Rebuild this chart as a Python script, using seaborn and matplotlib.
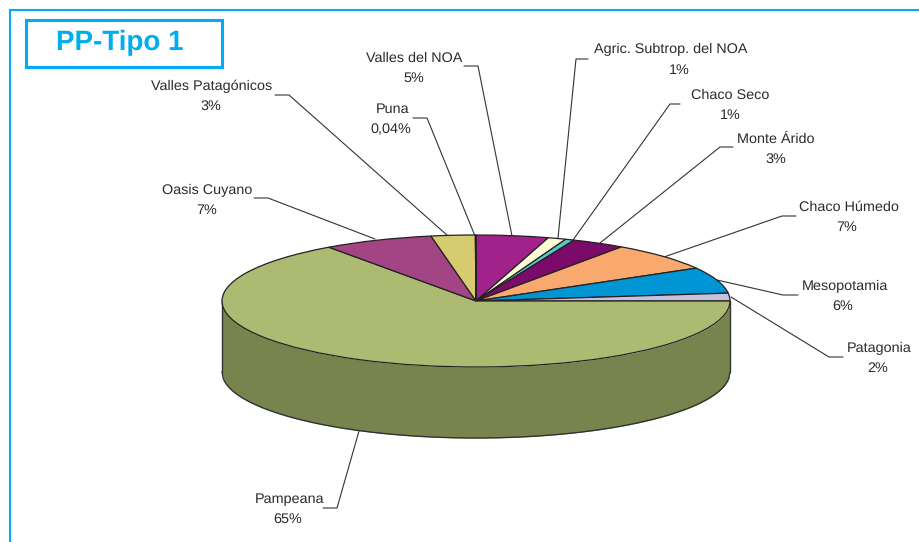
import numpy as np
import matplotlib
matplotlib.use("Agg")
import matplotlib.pyplot as plt
import seaborn as sns

# clockwise from 12 o'clock
regions = ["Valles del NOA", "Agric. Subtrop. del NOA", "Chaco Seco", "Monte Árido", "Chaco Húmedo",
           "Mesopotamia", "Patagonia", "Pampeana", "Oasis Cuyano", "Valles Patagónicos", "Puna"]
shares = [4.6, 1.15, 0.56, 3.4, 7.0, 6.4, 1.9, 65.2, 7.0, 2.8, 0.04]
share_labels = ["5%", "1%", "1%", "3%", "7%", "6%", "2%", "65%", "7%", "3%", "0,04%"]
slice_colors = ["#A0228A", "#FFFBD6", "#5CC8C8", "#7B0A6B", "#F9A96E", "#0096D6",
                "#C6C3DF", "#ADBA72", "#A34484", "#D6CB6E", "#6E6A3A"]

# layout, in pixels of the 920x542 picture (text centre x, baseline y)
name_pos = [(414, 62), (671, 53), (730, 99), (776, 143), (849, 211), (845, 290), (879, 352),
            (290, 503), (207, 194), (212, 90), (393, 113)]
share_pos = [(414, 82), (679, 74), (730, 119), (776, 163), (847, 231), (843, 310), (878, 372),
             (288, 523), (207, 214), (211, 110), (391, 133)]
leaders = [[(464, 66), (478, 66), (512, 236)],
           [(588, 59), (576, 59), (558, 238)],
           [(680, 104), (670, 104), (573, 240)],
           [(733, 147), (720, 147), (600, 243)],
           [(796, 216), (782, 216), (664, 257)],
           [(798, 295), (783, 295), (717, 280)],
           [(843, 357), (829, 357), (731, 297)],
           [(323, 508), (337, 508), (359, 431)],
           [(254, 198), (268, 198), (375, 239)],
           [(275, 95), (289, 95), (448, 236)],
           [(413, 118), (427, 118), (475, 236)]]

W, H = 920, 542
pie_left, pie_right, pie_top, pie_mid, pie_bottom = 222, 730, 235, 301, 438
blue = "#00AEEF"
ink = "#2b2b2b"

sns.set_theme(style="white")
plt.rcParams["font.family"] = ["Liberation Sans", "DejaVu Sans"]
plt.rcParams["text.hinting"] = "none"

fig = plt.figure(figsize=(W / 100, H / 100), dpi=100, facecolor="white")

# pixel overlay for frame, leaders and labels
over = fig.add_axes([0, 0, 1, 1], zorder=1)
over.set_xlim(0, W)
over.set_ylim(H, 0)
over.axis("off")

over.plot([10, 10, W + 5], [H + 5, 10, 10], color=blue, lw=1.5, solid_joinstyle="miter")
over.add_patch(plt.Rectangle((26, 20), 196, 47, fc="white", ec=blue, lw=2.2))
over.text(120, 50, "PP-Tipo 1", color=blue, fontsize=20, fontweight="bold", ha="center", va="baseline")

for name, share, (nx, ny), (sx, sy) in zip(regions, share_labels, name_pos, share_pos):
    over.text(nx, ny, name, fontsize=10.4, color=ink, ha="center", va="baseline")
    over.text(sx, sy, share, fontsize=10.4, color=ink, ha="center", va="baseline")
for line in leaders:
    xs, ys = zip(*line)
    over.plot(xs, ys, color="#333333", lw=0.8, solid_joinstyle="miter")

# squashed pie: one unit is the radius on both axes, the axes size makes the ellipse
ax = fig.add_axes([pie_left / W, 1 - pie_bottom / H, (pie_right - pie_left) / W, (pie_bottom - pie_top) / H], zorder=2)
depth = (pie_bottom - pie_top) / (pie_mid - pie_top) - 2

xs = np.linspace(-1, 1, 400)
front = -np.sqrt(1 - xs ** 2)
ax.fill_between(xs, front, front - depth, color="#78844E", lw=0, zorder=1)
ax.plot(xs, front - depth, color="#333333", lw=1, zorder=2, clip_on=False)
ax.plot([-1, -1], [0, -depth], color="#333333", lw=1, zorder=2, clip_on=False)
ax.plot([1, 1], [0, -depth], color="#333333", lw=1, zorder=2, clip_on=False)

ax.pie(shares, colors=sns.color_palette(slice_colors), startangle=90, counterclock=False, radius=1,
       wedgeprops={"edgecolor": "#222222", "linewidth": 0.9, "zorder": 3})
ax.set_aspect("auto")
ax.set_xlim(-1, 1)
ax.set_ylim(-1 - depth, 1)
ax.axis("off")
ax.patch.set_alpha(0)

fig.savefig("out.png", dpi=100)
